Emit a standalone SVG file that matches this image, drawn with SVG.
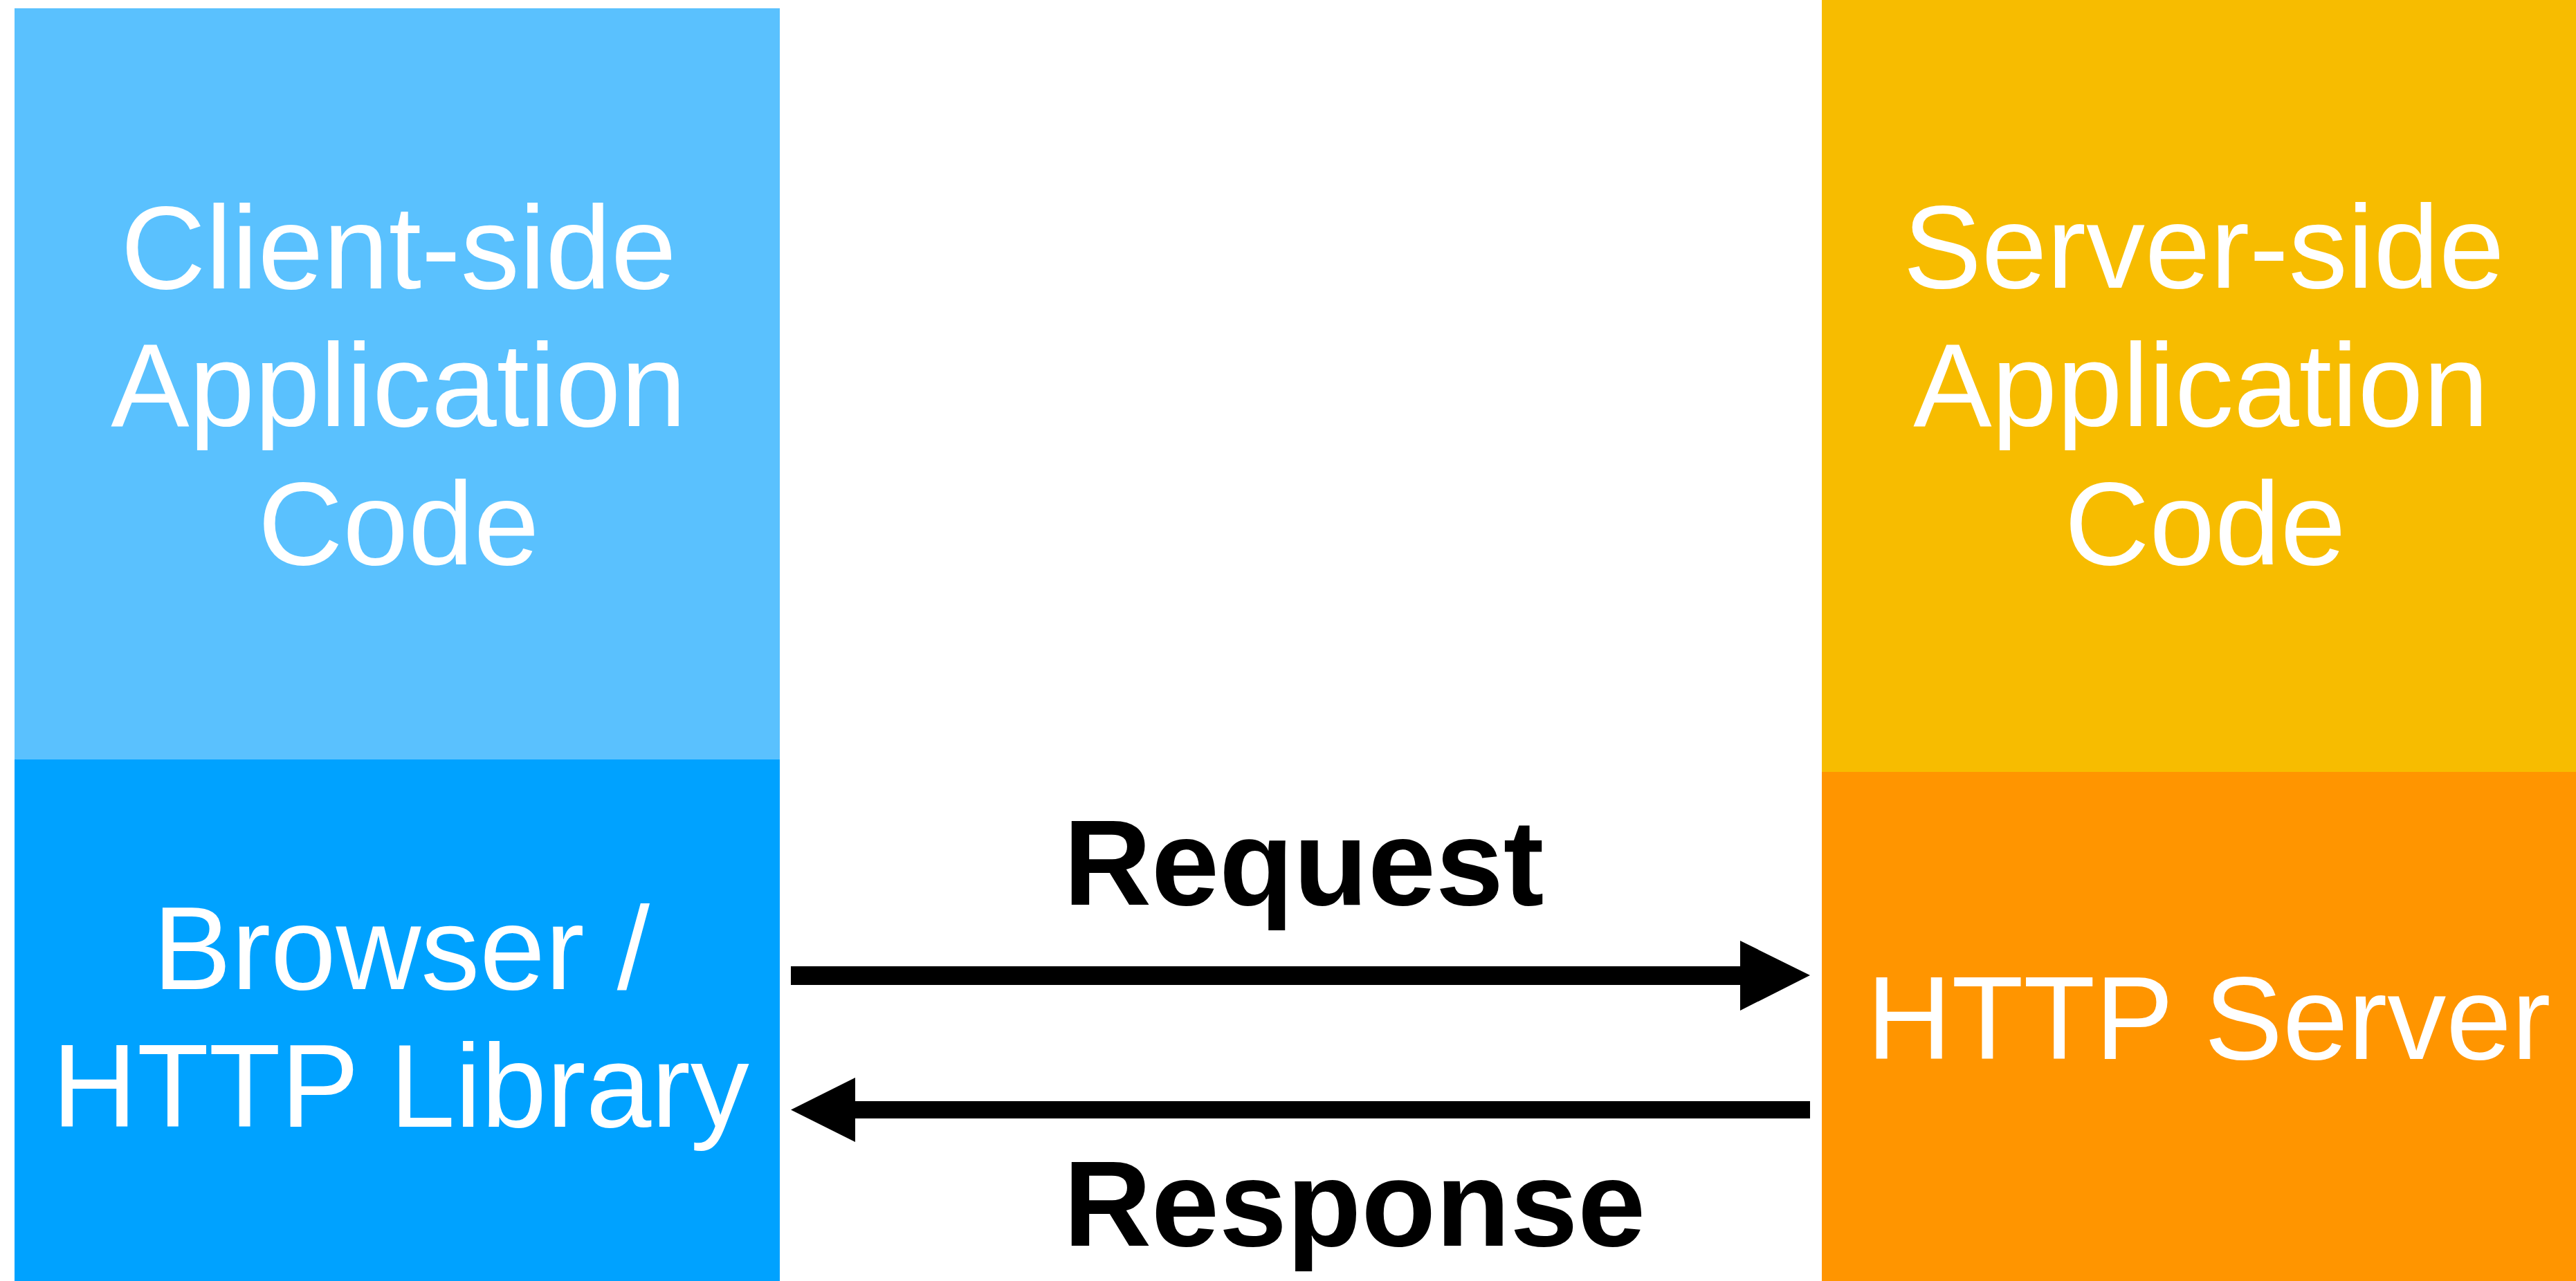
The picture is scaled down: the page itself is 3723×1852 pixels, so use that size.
<svg xmlns="http://www.w3.org/2000/svg" width="3723" height="1852" viewBox="0 0 3723 1852">
<style>
.lbl{font-family:"Liberation Sans",Arial,Helvetica,sans-serif;font-size:170px;fill:#ffffff;text-anchor:middle}
.conn{font-family:"Liberation Sans",Arial,Helvetica,sans-serif;font-size:176px;font-weight:bold;fill:#000000}
</style>
<rect width="3723" height="1852" fill="#ffffff"/>
<g id="client-app">
<rect x="21" y="12" width="1106" height="1086" fill="#5AC1FE"/>
<text class="lbl" x="576" y="417">Client-side</text>
<text class="lbl" x="576" y="616">Application</text>
<text class="lbl" x="576" y="816">Code</text>
</g>
<g id="browser">
<rect x="21" y="1098" width="1106" height="754" fill="#00A2FF"/>
<text class="lbl" x="580" y="1430">Browser /</text>
<text class="lbl" x="579" y="1629">HTTP Library</text>
</g>
<g id="server-app">
<rect x="2633" y="0" width="1090" height="1116" fill="#F7BC00"/>
<text class="lbl" x="3185" y="416">Server-side</text>
<text class="lbl" x="3181" y="616">Application</text>
<text class="lbl" x="3187" y="816">Code</text>
</g>
<g id="http-server">
<rect x="2633" y="1116" width="1090" height="736" fill="#FF9500"/>
<text class="lbl" x="3192" y="1531">HTTP Server</text>
</g>
<g id="connectors">
<polygon points="1143,1397 2515,1397 2515,1360 2616,1410 2515,1461 2515,1424 1143,1424" fill="#000000"/>
<text class="conn" x="1537" y="1308">Request</text>
<polygon points="2616,1592 1236,1592 1236,1558 1143,1604.5 1236,1651 1236,1617 2616,1617" fill="#000000"/>
<text class="conn" x="1537" y="1801">Response</text>
</g>
</svg>
